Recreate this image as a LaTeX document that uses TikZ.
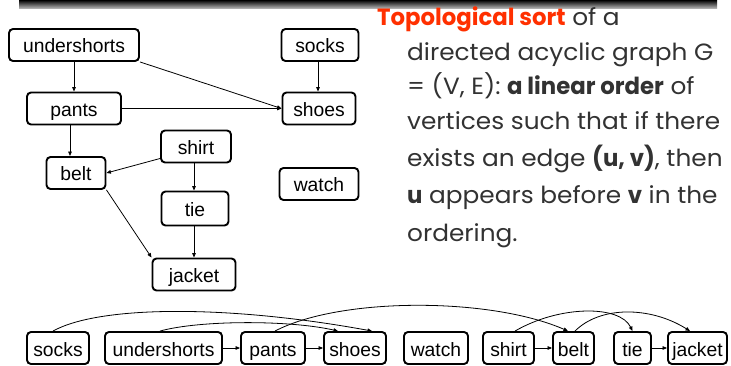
\documentclass[tikz,border=0pt]{standalone}
\usepackage{fontspec}
\setmainfont{Liberation Sans}
\newfontfamily\gothic[FakeStretch=1.055,BoldFeatures={FakeStretch=0.97}]{Poppins}
\usetikzlibrary{arrows.meta}
\definecolor{sortred}{RGB}{255,48,0}
\definecolor{bodygray}{RGB}{50,50,50}

\begin{document}
\begin{tikzpicture}[x=1pt,y=-1pt,
  item/.style={draw,line width=1.9pt,rounded corners=4pt,inner sep=0pt,
    minimum height=32pt,text height=16pt,text depth=0pt,
    font=\fontsize{19.3}{19.3}\selectfont},
  arr/.style={line width=0.8pt,-{Triangle[length=4.5pt,width=3.6pt]}},
  para/.style={anchor=base west,inner sep=0pt,text=bodygray,
    font=\gothic\fontsize{23.5}{23.5}\selectfont}]
\useasboundingbox (0,0) rectangle (731,366);

% header bar
\shade[top color=black,bottom color=gray!55] (19,0) rectangle (717,8.5);

% dependency graph
\node[item,minimum width=130pt] (us)     at (74,45)   {undershorts};
\node[item,minimum width=77pt]  (socks)  at (320,45)  {socks};
\node[item,minimum width=94pt]  (pants)  at (74,108.5){pants};
\node[item,minimum width=73pt]  (shoes)  at (319,108.5){shoes};
\node[item,minimum width=70pt]  (shirt)  at (196,146.5){shirt};
\node[item,minimum width=59pt]  (belt)   at (76,173)  {belt};
\node[item,minimum width=79pt]  (watch)  at (319,184) {watch};
\node[item,minimum width=67pt,minimum height=34pt] (tie) at (195,208.5){tie};
\node[item,minimum width=83pt]  (jacket) at (194,274.5){jacket};

\draw[arr] (us) -- (pants);
\draw[arr] (us.south east) -- (shoes.west);
\draw[arr] ([xshift=-2pt]socks.south) -- ([xshift=-2pt]socks.south |- shoes.north);
\draw[arr] (pants.east) -- (shoes.west);
\draw[arr] ([xshift=-4pt]pants.south) -- ([xshift=-4pt]pants.south |- belt.north);
\draw[arr] ([yshift=-12pt]shirt.west) -- (belt.east);
\draw[arr] ([xshift=-2pt]shirt.south) -- ([xshift=-2pt]shirt.south |- tie.north);
\draw[arr] (belt.south east) -- (jacket.north west);
\draw[arr] ([xshift=-1pt]tie.south) -- ([xshift=-1pt]tie.south |- jacket.north);

% definition text
\node[para] (l1) at (377,26) {\textcolor{sortred}{\bfseries Topological sort} of a};
\node[para] (l2) at (407,61) {directed acyclic graph G};
\node[para] (l3) at (407,95) {= (V, E): {\bfseries a linear order} of};
\node[para] (l4) at (407,130) {vertices such that if there};
\node[para] (l5) at (407,167) {exists an edge {\bfseries (u, v)}, then};
\node[para] (l6) at (407,204) {{\bfseries u} appears before {\bfseries v} in the};
\node[para] (l7) at (407,241) {ordering.};

% sorted order
\node[item,minimum width=62pt]  (bsocks)  at (58,348)    {socks};
\node[item,minimum width=117pt] (bus)     at (163.5,348) {undershorts};
\node[item,minimum width=64pt]  (bpants)  at (273,348)   {pants};
\node[item,minimum width=62pt]  (bshoes)  at (355,348)   {shoes};
\node[item,minimum width=64pt]  (bwatch)  at (436,348)   {watch};
\node[item,minimum width=51pt]  (bshirt)  at (508.5,348) {shirt};
\node[item,minimum width=41pt]  (bbelt)   at (573.5,348) {belt};
\node[item,minimum width=37pt]  (btie)    at (632.5,348) {tie};
\node[item,minimum width=59pt]  (bjacket) at (697.5,348) {jacket};

\draw[arr] (bus.east) -- (bpants.west);
\draw[arr] (bpants.east) -- (bshoes.west);
\draw[arr] (bshirt.east) -- (bbelt.west);
\draw[arr] (btie.east) -- (bjacket.west);

\draw[arr] ([xshift=-5pt]bsocks.north) .. controls (100,305) and (230,305) .. ([xshift=17pt]bshoes.north);
\draw[arr] ([xshift=-3.5pt]bus.north) .. controls (200,320) and (290,320) .. ([xshift=-17pt]bshoes.north);
\draw[arr] ([xshift=2pt]bpants.north) .. controls (340,297) and (490,297) .. ([xshift=-5.5pt]bbelt.north);
\draw[arr] ([xshift=6.5pt]bshirt.north) .. controls (560,305) and (620,305) .. (btie.north);
\draw[arr] ([xshift=1.5pt]bbelt.north) .. controls (600,306) and (650,306) .. ([xshift=-7.5pt]bjacket.north);
\end{tikzpicture}
\end{document}
